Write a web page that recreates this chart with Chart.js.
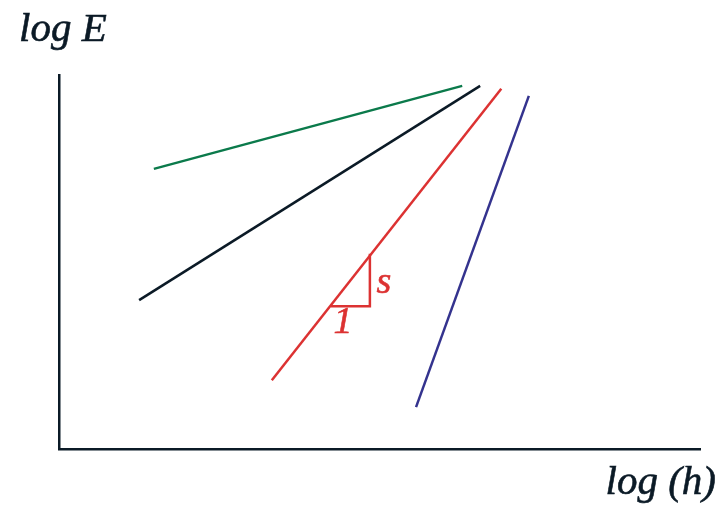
<!DOCTYPE html>
<html lang="en">
<head>
    <meta charset="UTF-8">
    <title>log E vs log (h)</title>
    <style>
        html, body { margin: 0; padding: 0; background: #fff; }
        #wrap { width: 723px; height: 506px; position: relative; }
    </style>
    <script src="https://cdn.jsdelivr.net/npm/chart.js"></script>
</head>
<body>
<div id="wrap"><canvas id="chart"></canvas></div>
<script>
    // endpoints of each line in (log h, log E) units, axes run 0..10
    const greenLine = [{ x: 1.48, y: 7.49 }, { x: 6.29, y: 9.71 }];
    const blackLine = [{ x: 1.25, y: 3.98 }, { x: 6.57, y: 9.71 }];
    const redLine   = [{ x: 3.32, y: 1.84 }, { x: 6.90, y: 9.63 }];
    const blueLine  = [{ x: 5.57, y: 1.12 }, { x: 7.33, y: 9.44 }];
    // slope triangle under the red line
    const slopeTri  = [{ x: 4.24, y: 3.82 }, { x: 4.85, y: 3.82 }, { x: 4.85, y: 5.22 }];
    const triLabels = [{ text: 's', x: 5.07, y: 4.45 }, { text: '1', x: 4.43, y: 3.36 }];
    const xTitle = 'log (h)';
    const yTitle = 'log E';

    const ink = '#0b1a26';
    const serif = '"Liberation Serif", "Times New Roman", serif';

    function lineSet(data, color) {
        return {
            data: data,
            showLine: true,
            borderColor: color,
            borderWidth: 2.5,
            pointRadius: 0,
            fill: false,
            tension: 0
        };
    }

    // fill + thin stroke so the italic text sits a bit heavier
    function heavyText(ctx, text, x, y) {
        ctx.fillText(text, x, y);
        ctx.strokeText(text, x, y);
    }

    const textPlugin = {
        id: 'texts',
        afterDatasetsDraw(chart) {
            const ctx = chart.ctx;
            const xs = chart.scales.x, ys = chart.scales.y;
            ctx.save();
            ctx.lineWidth = 0.6;
            ctx.textBaseline = 'middle';
            ctx.textAlign = 'center';
            ctx.fillStyle = ctx.strokeStyle = '#dc3232';
            ctx.font = 'italic 38px ' + serif;
            triLabels.forEach(l => {
                heavyText(ctx, l.text, xs.getPixelForValue(l.x), ys.getPixelForValue(l.y));
            });
            ctx.fillStyle = ctx.strokeStyle = ink;
            ctx.textBaseline = 'alphabetic';
            ctx.font = 'italic 41px ' + serif;
            ctx.textAlign = 'left';
            heavyText(ctx, yTitle, 19, 41);
            ctx.textAlign = 'right';
            heavyText(ctx, xTitle, 716, 494);
            ctx.restore();
        }
    };

    const axisOpts = {
        min: 0,
        max: 10,
        grid: { display: false, drawTicks: false },
        ticks: { display: false },
        border: { display: true, color: ink, width: 2.5 }
    };

    new Chart(document.getElementById('chart'), {
        type: 'scatter',
        data: {
            datasets: [
                lineSet(greenLine, '#0b7a4b'),
                lineSet(blackLine, ink),
                lineSet(redLine, '#dc3232'),
                lineSet(blueLine, '#34338e'),
                lineSet(slopeTri, '#dc3232')
            ]
        },
        options: {
            responsive: true,
            maintainAspectRatio: false,
            animation: false,
            layout: { padding: { left: 59, right: 23, top: 75, bottom: 57 } },
            plugins: { legend: { display: false }, tooltip: { enabled: false } },
            scales: { x: axisOpts, y: axisOpts }
        },
        plugins: [textPlugin]
    });
</script>
</body>
</html>
